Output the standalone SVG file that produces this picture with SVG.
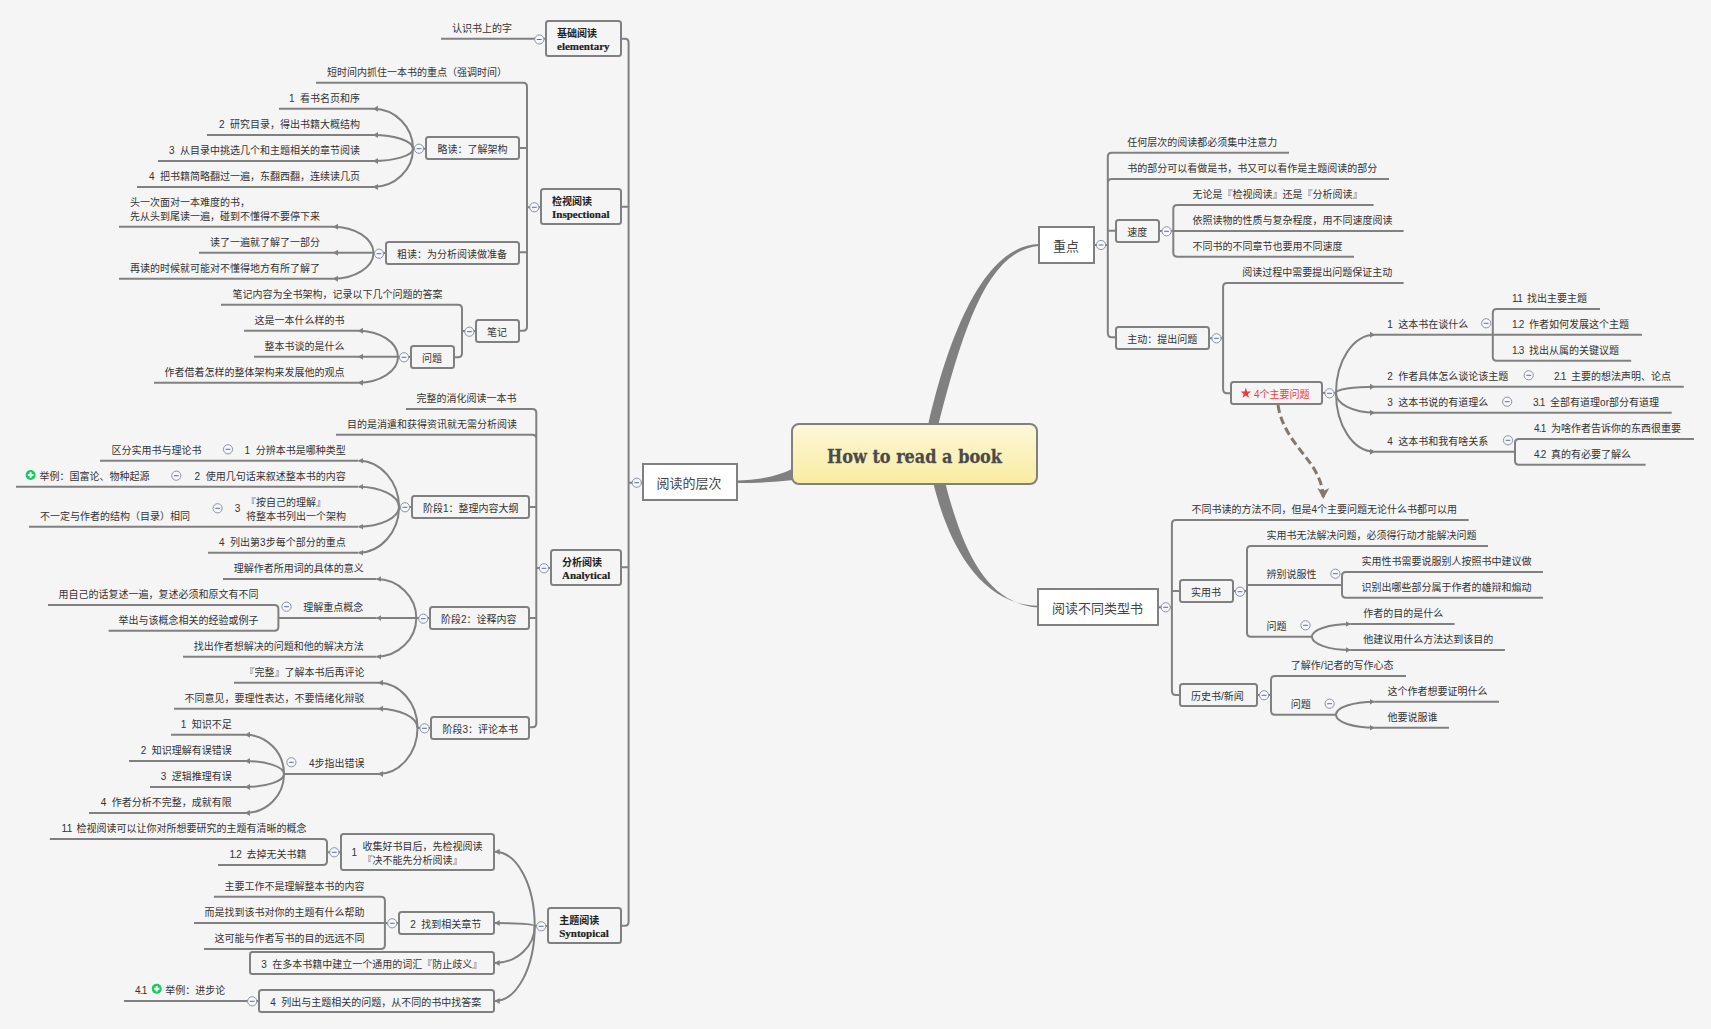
<svg xmlns="http://www.w3.org/2000/svg" width="1711" height="1029" viewBox="0 0 1711 1029">
<style>
text{font-family:"Liberation Sans","Noto Sans CJK SC",sans-serif;font-size:10px;fill:#333;white-space:pre}
.e{text-anchor:end}
.mid{text-anchor:middle}
.main{font-size:13px;fill:#444;text-anchor:middle}
.bc{font-weight:bold;fill:#222}
.bl{font-family:"Liberation Serif",serif;font-size:11px;font-weight:bold;fill:#222;stroke:#222;stroke-width:.2}
.title{font-family:"DejaVu Serif",serif;font-size:19px;font-weight:bold;fill:#4a4a4a;stroke:#4a4a4a;stroke-width:.3}
.red{fill:#f23a3a}
.k{letter-spacing:-.8px}
.k2{letter-spacing:-1.5px}
.l{fill:none;stroke:#808080;stroke-width:2}
.a{fill:none;stroke:#808080;stroke-width:2;marker-end:url(#ah)}
.n{fill:#f5f5f5;stroke:#808080;stroke-width:2}
.b{fill:#fff;stroke:#808080;stroke-width:2}
.t{fill:#808080}
</style>
<defs>
<linearGradient id="rg" x1="0" y1="0" x2="0" y2="1"><stop offset="0" stop-color="#fdf7da"/><stop offset="1" stop-color="#f9eca0"/></linearGradient>
<marker id="ah" markerUnits="userSpaceOnUse" markerWidth="6" markerHeight="7" refX="5" refY="3.5" orient="auto"><path d="M0 .5L5 3.5L0 6.5Z" fill="#808080"/></marker>
<marker id="dh" markerUnits="userSpaceOnUse" markerWidth="14" markerHeight="14" refX="11" refY="7" orient="auto"><path d="M0 1L11 7L0 13L3 7Z" fill="#877769"/></marker>
<g id="cm"><circle r="4.6" fill="#f7f8fc" stroke="#8b90a4" stroke-width="1"/><path d="M-2.4 0H2.4" stroke="#5a6ca0" stroke-width="1"/></g>
<g id="pl"><circle r="5" fill="#0fcf5c"/><path d="M-2.8 0H2.8M0-2.8V2.8" stroke="#fff" stroke-width="2"/></g>
</defs>
<rect width="1711" height="1029" fill="#f5f5f5"/>

<g id="connectors">
<path class="t" d="M928 426C945 350 980 245 1039 244L1039 246C990 250 965 320 938 426Z"/>
<path class="t" d="M933 482C946 535 975 604 1038 605.8L1038 607.6C990 603 965 560 945 482Z"/>
<path class="t" d="M794 468C775 478 755 480 737 480.5L737 483C760 483 775 482 794 480Z"/>
<path class="l" d="M621 38.7H625Q628.6 38.7 628.6 42.7V921.7Q628.6 925.7 625 925.7H621M621 206.7H628.6M621 567.3H628.6M643 482.7H628.6"/>
<path class="l" d="M546 38.7H532"/>
<path class="l" d="M541 207.3H527M520 148H527M520 252.3H527"/>
<path class="l" d="M316 82.7H523Q527 82.7 527 86.7V326.7Q527 330.7 523 330.7H519"/>
<path class="l" d="M221 304.7H458Q462 304.7 462 308.7V353.3Q462 357.3 458 357.3H454M476 331H462"/>
<path class="l" d="M551 568H536.3M406 409H532.3Q536.3 409 536.3 413V723.3Q536.3 727.3 532.3 727.3H529M336 434.7H532.3Q536.3 434.7 536.3 438.7M529 507H536.3M529 618H536.3"/>
<path class="l" d="M426 148.7H413M386 253H373.5M411 357H398M412 507H399M430 618H416.3M431 728H417.5M548 926H534.7"/>
<path class="a" d="M413 148.7C413 126.7 395 108.7 373 108.7"/>
<path class="a" d="M413 148.7C413 141 395 135 373 135"/>
<path class="a" d="M413 148.7C413 155.5 395 161 373 161"/>
<path class="a" d="M413 148.7C413 169.8 395 187 373 187"/>
<path class="a" d="M373.5 253C373.5 238.5 355 226.7 333 226.7"/>
<path class="a" d="M373.5 252.7H333"/>
<path class="a" d="M373.5 253C373.5 267 355 278.7 333 278.7"/>
<path class="a" d="M398 357C398 342.5 380 330.7 358 330.7"/>
<path class="a" d="M398 356.7H358"/>
<path class="a" d="M398 357C398 371 380 382.7 358 382.7"/>
<path class="a" d="M399 507C399 481.5 380.4 460.7 358.4 460.7"/>
<path class="a" d="M399 507C399 495.8 380.4 486.7 358.4 486.7"/>
<path class="a" d="M399 507C399 517.8 380.4 526.7 358.4 526.7"/>
<path class="a" d="M399 507C399 532 380.4 552.7 358.4 552.7"/>
<path class="a" d="M416.3 618C416.3 596.5 398 579 376.3 579"/>
<path class="a" d="M416.3 618H376.3"/>
<path class="a" d="M416.3 618C416.3 639.3 398 656.7 376.3 656.7"/>
<path class="a" d="M417.5 728C417.5 703 400 682.7 378 682.7"/>
<path class="a" d="M417.5 728C417.5 717.4 400 708.7 378 708.7"/>
<path class="a" d="M417.5 728C417.5 753 400 774 378 774"/>
<path class="a" d="M284 774C284 752.4 267 734.7 245 734.7"/>
<path class="a" d="M284 774C284 767 267 761 245 761"/>
<path class="a" d="M284 774C284 781 267 787 245 787"/>
<path class="a" d="M284 774C284 795.5 267 813 245 813"/>
<path class="a" d="M534.7 926C534.7 885 517 851.7 494.7 851.7"/>
<path class="a" d="M534.7 926C534.7 924 517 923 494.7 923"/>
<path class="a" d="M534.7 926C534.7 946 517 963 494.7 963"/>
<path class="a" d="M534.7 926C534.7 967 517 1001 494.7 1001"/>
<path class="l" d="M48 605H274.4Q278.4 605 278.4 609V626.7Q278.4 630.7 274.4 630.7H108.6"/>
<path class="l" d="M49.8 839H323Q327 839 327 843V861Q327 865 323 865H218M341 852.3H327"/>
<path class="l" d="M213.9 896.7H380.9Q384.9 896.7 384.9 900.7V945Q384.9 949 380.9 949H204M399 923H384.9"/>
<path class="l" d="M259 1001H245"/>
<path class="l" d="M1095 245H1107.8M1289 152.7H1111.8Q1107.8 152.7 1107.8 156.7V333.3Q1107.8 337.3 1111.8 337.3H1116M1389 179H1111.8Q1107.8 179 1107.8 183M1107.8 230.7H1116"/>
<path class="l" d="M1159 231H1173.3M1373.6 205H1177.3Q1173.3 205 1173.3 209V252.7Q1173.3 256.7 1177.3 256.7H1354M1403.6 231H1173.3"/>
<path class="l" d="M1209 338.3H1223.1M1403.6 283H1227.1Q1223.1 283 1223.1 287V389.3Q1223.1 393.3 1227.1 393.3H1231"/>
<path class="l" d="M1322 393H1336"/>
<path class="a" d="M1336 393C1336 361 1353 334.7 1375 334.7"/>
<path class="a" d="M1336 393C1336 389.5 1353 386.7 1375 386.7"/>
<path class="a" d="M1336 393C1336 404 1353 412.7 1375 412.7"/>
<path class="a" d="M1336 393C1336 425 1353 451.7 1375 451.7"/>
<path class="l" d="M1600 309H1496.8Q1492.8 309 1492.8 313V356.7Q1492.8 360.7 1496.8 360.7H1631.2M1642 334.7H1492.8"/>
<path class="l" d="M1694 439H1519Q1515 439 1515 443V460.7Q1515 464.7 1519 464.7H1645.6"/>
<path d="M1278 405C1282 432 1300 448 1313 467C1319 477 1323.3 487 1323.3 499" fill="none" stroke="#877769" stroke-width="3" stroke-dasharray="8 4" marker-end="url(#dh)"/>
<path class="l" d="M1159 607.3H1171.9M1468.7 520H1175.9Q1171.9 520 1171.9 524V691Q1171.9 695 1175.9 695H1180M1171.9 591H1180"/>
<path class="l" d="M1233 591H1247M1488 546H1251Q1247 546 1247 550V632.7Q1247 636.7 1251 636.7H1312M1342 585H1247"/>
<path class="l" d="M1543 572H1346Q1342 572 1342 576V593.7Q1342 597.7 1346 597.7H1543"/>
<path class="a" d="M1312 636.7C1312 629.7 1329 624 1350.6 624"/>
<path class="a" d="M1312 636.7C1312 644 1329 650 1350.6 650"/>
<path class="l" d="M1257 695H1271M1406 676H1275Q1271 676 1271 680V710.7Q1271 714.7 1275 714.7H1336"/>
<path class="a" d="M1336 714.7C1336 707.5 1353 701.7 1374.7 701.7"/>
<path class="a" d="M1336 714.7C1336 722 1353 727.7 1374.7 727.7"/>
</g>

<g id="root"><rect x="792" y="424" width="245" height="60" rx="7" fill="url(#rg)" stroke="#808080" stroke-width="2"/><text class="title" x="827" y="463" textLength="175" lengthAdjust="spacingAndGlyphs">How to read a book</text></g>

<g id="m-levels"><rect class="b" x="643" y="464" width="94" height="36"/><text class="main" x="689" y="487.5">阅读的层次</text><use href="#cm" x="636.7" y="482.7"/></g>
<g id="m-key"><rect class="b" x="1039" y="227" width="55" height="36"/><text class="main" x="1066" y="250.5">重点</text><use href="#cm" x="1101" y="245"/></g>
<g id="m-types"><rect class="b" x="1038" y="589" width="120" height="36"/><text class="main" x="1097.5" y="612.5">阅读不同类型书</text><use href="#cm" x="1165.7" y="607.3"/></g>

<g id="elementary"><rect class="n" x="546" y="21" width="75" height="35" rx="2.5"/><text class="bc" x="557" y="37">基础阅读</text><text class="bl" x="557" y="50">elementary</text><use href="#cm" x="539.3" y="39.5"/></g>
<g id="e1"><path class="l" d="M441 38.7H532"/><text x="452" y="32">认识书上的字</text></g>

<g id="inspectional"><rect class="n" x="541" y="189" width="80" height="35" rx="2.5"/><text class="bc" x="552" y="205">检视阅读</text><text class="bl" x="552" y="218">Inspectional</text><use href="#cm" x="534.3" y="207.3"/></g>
<g id="i1"><text x="327" y="76">短时间内抓住一本书的重点（强调时间）</text></g>
<g id="i2"><rect class="n" x="426" y="137" width="93" height="22" rx="2.5"/><text x="437.5" y="153">略读：了解架构</text><use href="#cm" x="419" y="148.7"/></g>
<g id="i2a"><path class="l" d="M279 108.7H373"/><text class="e" x="360" y="102">1  看书名页和序</text></g>
<g id="i2b"><path class="l" d="M207 135H373"/><text class="e" x="360" y="128">2  研究目录，得出书籍大概结构</text></g>
<g id="i2c"><path class="l" d="M158 161H373"/><text class="e" x="360" y="154">3  从目录中挑选几个和主题相关的章节阅读</text></g>
<g id="i2d"><path class="l" d="M137 187H373"/><text class="e" x="360" y="180">4  把书籍简略翻过一遍，东翻西翻，连续读几页</text></g>
<g id="i3"><rect class="n" x="386" y="242" width="133" height="22" rx="2.5"/><text x="397" y="258">粗读：为分析阅读做准备</text><use href="#cm" x="379" y="253.7"/></g>
<g id="i3a"><path class="l" d="M119 226.7H333"/><text x="130" y="206">头一次面对一本难度的书，</text><text x="130" y="220">先从头到尾读一遍，碰到不懂得不要停下来</text></g>
<g id="i3b"><path class="l" d="M199 252.7H333"/><text class="e" x="320" y="246">读了一遍就了解了一部分</text></g>
<g id="i3c"><path class="l" d="M119 278.7H333"/><text class="e" x="320" y="272">再读的时候就可能对不懂得地方有所了解了</text></g>
<g id="i4"><rect class="n" x="476" y="320" width="43" height="22" rx="2.5"/><text class="mid" x="497" y="336">笔记</text><use href="#cm" x="469.4" y="331.7"/></g>
<g id="i4a"><text x="232.6" y="298">笔记内容为全书架构，记录以下几个问题的答案</text></g>
<g id="i4b"><rect class="n" x="411" y="346" width="43" height="22" rx="2.5"/><text class="mid" x="432" y="362">问题</text><use href="#cm" x="404" y="357.3"/></g>
<g id="i4b1"><path class="l" d="M244 330.7H358"/><text class="e" x="344.5" y="324">这是一本什么样的书</text></g>
<g id="i4b2"><path class="l" d="M254 356.7H358"/><text class="e" x="344.5" y="350">整本书谈的是什么</text></g>
<g id="i4b3"><path class="l" d="M154 382.7H358"/><text class="e" x="344.5" y="376">作者借着怎样的整体架构来发展他的观点</text></g>

<g id="analytical"><rect class="n" x="551" y="550" width="70" height="35" rx="2.5"/><text class="bc" x="562" y="566">分析阅读</text><text class="bl" x="562" y="579">Analytical</text><use href="#cm" x="544" y="568.3"/></g>
<g id="a1"><text class="e" x="516.5" y="402">完整的消化阅读一本书</text></g>
<g id="a2"><text class="e" x="517" y="428">目的是消遣和获得资讯就无需分析阅读</text></g>
<g id="a3"><rect class="n" x="412" y="496" width="117" height="22" rx="2.5"/><text x="423" y="512">阶段1：整理内容大纲</text><use href="#cm" x="405" y="507.3"/></g>
<g id="a3a"><path class="l" d="M100 460.7H358"/><text class="e" x="345.7" y="453.5">1  分辨本书是哪种类型</text><use href="#cm" x="228" y="449.3"/></g>
<g id="a3a1"><text x="111.4" y="453.5">区分实用书与理论书</text></g>
<g id="a3b"><path class="l" d="M16 486.7H358"/><text class="e" x="345.7" y="479.5">2  使用几句话来叙述整本书的内容</text><use href="#cm" x="176.3" y="475.7"/></g>
<g id="a3b1"><use href="#pl" x="30.6" y="475"/><text x="39.6" y="479.5">举例：国富论、物种起源</text></g>
<g id="a3c"><path class="l" d="M29 526.7H358"/><text x="234.8" y="512.2">3</text><text x="246" y="506.2">『按自己的理解』</text><text x="246" y="519.8">将整本书列出一个架构</text><use href="#cm" x="217.6" y="508.3"/></g>
<g id="a3c1"><text x="40" y="519.8">不一定与作者的结构（目录）相同</text></g>
<g id="a3d"><path class="l" d="M208 552.7H358"/><text class="e" x="345.7" y="545.5">4  列出第3步每个部分的重点</text></g>
<g id="a4"><rect class="n" x="430" y="607" width="99" height="22" rx="2.5"/><text x="441" y="623">阶段2：诠释内容</text><use href="#cm" x="423.3" y="618.7"/></g>
<g id="a4a"><path class="l" d="M223 579H376"/><text class="e" x="363.7" y="572">理解作者所用词的具体的意义</text></g>
<g id="a4b"><path class="l" d="M279 618H376"/><text class="e" x="363.3" y="611">理解重点概念</text><use href="#cm" x="286.5" y="606.7"/></g>
<g id="a4b1"><text class="e" x="258.4" y="598">用自己的话复述一遍，复述必须和原文有不同</text></g>
<g id="a4b2"><text class="e" x="258.4" y="624">举出与该概念相关的经验或例子</text></g>
<g id="a4c"><path class="l" d="M183 656.7H376"/><text class="e" x="363.7" y="650">找出作者想解决的问题和他的解决方法</text></g>
<g id="a5"><rect class="n" x="431" y="717" width="98" height="22" rx="2.5"/><text x="442.4" y="733">阶段3：评论本书</text><use href="#cm" x="424.5" y="728.3"/></g>
<g id="a5a"><path class="l" d="M234 682.7H378"/><text class="e" x="364.5" y="676">『完整』了解本书后再评论</text></g>
<g id="a5b"><path class="l" d="M174 708.7H378"/><text class="e" x="364.5" y="702">不同意见，要理性表达，不要情绪化辩驳</text></g>
<g id="a5c"><path class="l" d="M284 774H378"/><text class="e" x="364.5" y="767">4步指出错误</text><use href="#cm" x="291.4" y="762.3"/></g>
<g id="a5c1"><path class="l" d="M171 734.7H245"/><text class="e" x="231.8" y="727.5">1  知识不足</text></g>
<g id="a5c2"><path class="l" d="M129 761H245"/><text class="e" x="231.8" y="753.5">2  知识理解有误错误</text></g>
<g id="a5c3"><path class="l" d="M150 787H245"/><text class="e" x="231.8" y="779.5">3  逻辑推理有误</text></g>
<g id="a5c4"><path class="l" d="M89 813H245"/><text class="e" x="231.8" y="806">4  作者分析不完整，成就有限</text></g>

<g id="syntopical"><rect class="n" x="548" y="908" width="73" height="35" rx="2.5"/><text class="bc" x="559.2" y="924">主题阅读</text><text class="bl" x="559.2" y="937">Syntopical</text><use href="#cm" x="541.2" y="926.3"/></g>
<g id="s1"><rect class="n" x="341" y="834" width="153" height="36" rx="2.5"/><text x="351.5" y="856">1</text><text x="362.4" y="850">收集好书目后，先检视阅读</text><text x="362.4" y="864">『决不能先分析阅读』</text><use href="#cm" x="334.3" y="852.3"/></g>
<g id="s1a"><text class="e" x="306.5" y="832"><tspan class="k2">1.1</tspan>  检视阅读可以让你对所想要研究的主题有清晰的概念</text></g>
<g id="s1b"><text class="e" x="306.5" y="857.5"><tspan class="k">1.2</tspan>  去掉无关书籍</text></g>
<g id="s2"><rect class="n" x="399" y="912" width="95" height="22" rx="2.5"/><text x="410.2" y="927.5">2  找到相关章节</text><use href="#cm" x="392.2" y="923.3"/></g>
<g id="s2a"><text class="e" x="364.5" y="890">主要工作不是理解整本书的内容</text></g>
<g id="s2b"><path class="l" d="M194 923H385"/><text class="e" x="364.5" y="916">而是找到该书对你的主题有什么帮助</text></g>
<g id="s2c"><text class="e" x="364.5" y="942">这可能与作者写书的目的远远不同</text></g>
<g id="s3"><rect class="n" x="250" y="952" width="244" height="22" rx="2.5"/><text x="261.2" y="968">3  在多本书籍中建立一个通用的词汇『防止歧义』</text></g>
<g id="s4"><rect class="n" x="259" y="990" width="235" height="22" rx="2.5"/><text x="270.2" y="1006">4  列出与主题相关的问题，从不同的书中找答案</text><use href="#cm" x="252.2" y="1001.3"/></g>
<g id="s4a"><path class="l" d="M124 1001H245"/><text class="k" x="135" y="993.5">4.1</text><use href="#pl" x="156.7" y="988.7"/><text x="165.3" y="993.5">举例：进步论</text></g>

<g id="k1"><text x="1127.3" y="146">任何层次的阅读都必须集中注意力</text></g>
<g id="k2"><text x="1127.3" y="172">书的部分可以看做是书，书又可以看作是主题阅读的部分</text></g>
<g id="k3"><rect class="n" x="1116" y="220" width="43" height="22" rx="2.5"/><text x="1127.3" y="236">速度</text><use href="#cm" x="1166.6" y="231.3"/></g>
<g id="k3a"><text x="1192.4" y="198">无论是『检视阅读』还是『分析阅读』</text></g>
<g id="k3b"><text x="1192.4" y="224">依照读物的性质与复杂程度，用不同速度阅读</text></g>
<g id="k3c"><text x="1192.4" y="250">不同书的不同章节也要用不同速度</text></g>
<g id="k4"><rect class="n" x="1116" y="327" width="93" height="22" rx="2.5"/><text x="1127.3" y="343">主动：提出问题</text><use href="#cm" x="1216.5" y="338.3"/></g>
<g id="k4a"><text x="1242.2" y="276">阅读过程中需要提出问题保证主动</text></g>
<g id="k4b"><rect class="n" x="1231" y="382" width="91" height="22" rx="2.5"/><path fill="#f23a3a" d="M1245.8 387.8L1247.1 391.5L1251 391.6L1247.9 394L1249 397.8L1245.8 395.5L1242.6 397.8L1243.7 394L1240.6 391.6L1244.5 391.5Z"/><text class="red" x="1254" y="398">4个主要问题</text><use href="#cm" x="1329.5" y="393.3"/></g>
<g id="q1"><path class="l" d="M1375 334.7H1492.8"/><text x="1387.2" y="327.5">1  这本书在谈什么</text><use href="#cm" x="1486.2" y="323.3"/></g>
<g id="q1a"><text x="1512" y="302"><tspan class="k2">1.1</tspan>  找出主要主题</text></g>
<g id="q1b"><text x="1512" y="328"><tspan class="k">1.2</tspan>  作者如何发展这个主题</text></g>
<g id="q1c"><text x="1512" y="353.5"><tspan class="k">1.3</tspan>  找出从属的关键议题</text></g>
<g id="q2"><path class="l" d="M1375 386.7H1683.8"/><text x="1387.2" y="379.5">2  作者具体怎么谈论该主题</text><use href="#cm" x="1528.7" y="375.3"/><text x="1554" y="379.5"><tspan class="k">2.1</tspan>  主要的想法声明、论点</text></g>
<g id="q3"><path class="l" d="M1375 412.7H1671.7"/><text x="1387.2" y="406">3  这本书说的有道理么</text><use href="#cm" x="1507.2" y="401.7"/><text x="1533" y="406"><tspan class="k">3.1</tspan>  全部有道理or部分有道理</text></g>
<g id="q4"><path class="l" d="M1375 451.7H1515"/><text x="1387.2" y="444.5">4  这本书和我有啥关系</text><use href="#cm" x="1508" y="440.3"/></g>
<g id="q4a"><text x="1534" y="432"><tspan class="k">4.1</tspan>  为啥作者告诉你的东西很重要</text></g>
<g id="q4b"><text x="1534" y="458"><tspan class="k">4.2</tspan>  真的有必要了解么</text></g>

<g id="t1"><text x="1191.5" y="513">不同书读的方法不同，但是4个主要问题无论什么书都可以用</text></g>
<g id="t2"><rect class="n" x="1180" y="580" width="53" height="22" rx="2.5"/><text class="mid" x="1206" y="596">实用书</text><use href="#cm" x="1240" y="591.7"/></g>
<g id="t2a"><text x="1266.6" y="539">实用书无法解决问题，必须得行动才能解决问题</text></g>
<g id="t2b"><text x="1266.6" y="578">辨别说服性</text><use href="#cm" x="1335.4" y="573.7"/></g>
<g id="t2b1"><text x="1361.6" y="565">实用性书需要说服别人按照书中建议做</text></g>
<g id="t2b2"><text x="1361.6" y="591">识别出哪些部分属于作者的雄辩和煽动</text></g>
<g id="t2c"><text x="1266.6" y="629.5">问题</text><use href="#cm" x="1305.5" y="625.3"/></g>
<g id="t2c1"><path class="l" d="M1350.6 624H1454.6"/><text x="1363.3" y="617">作者的目的是什么</text></g>
<g id="t2c2"><path class="l" d="M1350.6 650H1504.9"/><text x="1363.3" y="643">他建议用什么方法达到该目的</text></g>
<g id="t3"><rect class="n" x="1180" y="684" width="77" height="22" rx="2.5"/><text x="1191" y="700">历史书/新闻</text><use href="#cm" x="1264.1" y="695.3"/></g>
<g id="t3a"><text x="1290.7" y="669">了解作/记者的写作心态</text></g>
<g id="t3b"><text x="1290.7" y="708">问题</text><use href="#cm" x="1329.6" y="703.7"/></g>
<g id="t3b1"><path class="l" d="M1374.7 701.7H1499"/><text x="1387.4" y="695">这个作者想要证明什么</text></g>
<g id="t3b2"><path class="l" d="M1374.7 727.7H1449"/><text x="1387.4" y="721">他要说服谁</text></g>
</svg>
